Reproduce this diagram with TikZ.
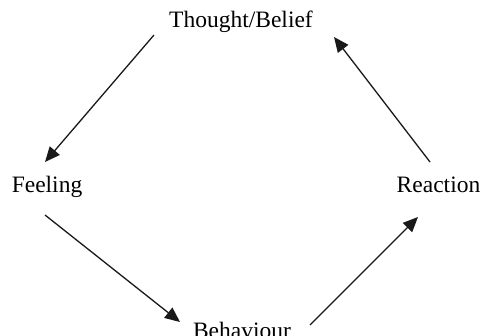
\documentclass[tikz,border=0pt]{standalone}
\usepackage{fontspec}
\setmainfont{Liberation Serif}
\usepackage{tikz}
\usetikzlibrary{arrows.meta}

\begin{document}
\begin{tikzpicture}[
  x=1pt, y=1pt, font=\fontsize{23.5}{28}\selectfont,
  >={Triangle[length=15pt,width=13pt]},
  stage/.style={anchor=base, inner sep=0pt},
  link/.style={->, line width=1.3pt, black!90}]
\useasboundingbox (0,0) rectangle (481,335);
\node[stage] (thought) at (241,307) {Thought/Belief};
\node[stage] (feeling) at (47,143) {Feeling};
\node[stage] (reaction) at (438.5,143) {Reaction};
\node[stage] (behaviour) at (242,-3) {Behaviour};
\draw[link] ([shift={(-87,-7)}]thought.base) -- ([shift={(-2,30)}]feeling.base);
\draw[link] ([shift={(-2,-23)}]feeling.base) -- ([shift={(-62,16)}]behaviour.base);
\draw[link] ([shift={(68,13)}]behaviour.base) -- ([shift={(-20.5,-25)}]reaction.base);
\draw[link] ([shift={(-8.5,30)}]reaction.base) -- ([shift={(93,-9)}]thought.base);
\end{tikzpicture}
\end{document}
